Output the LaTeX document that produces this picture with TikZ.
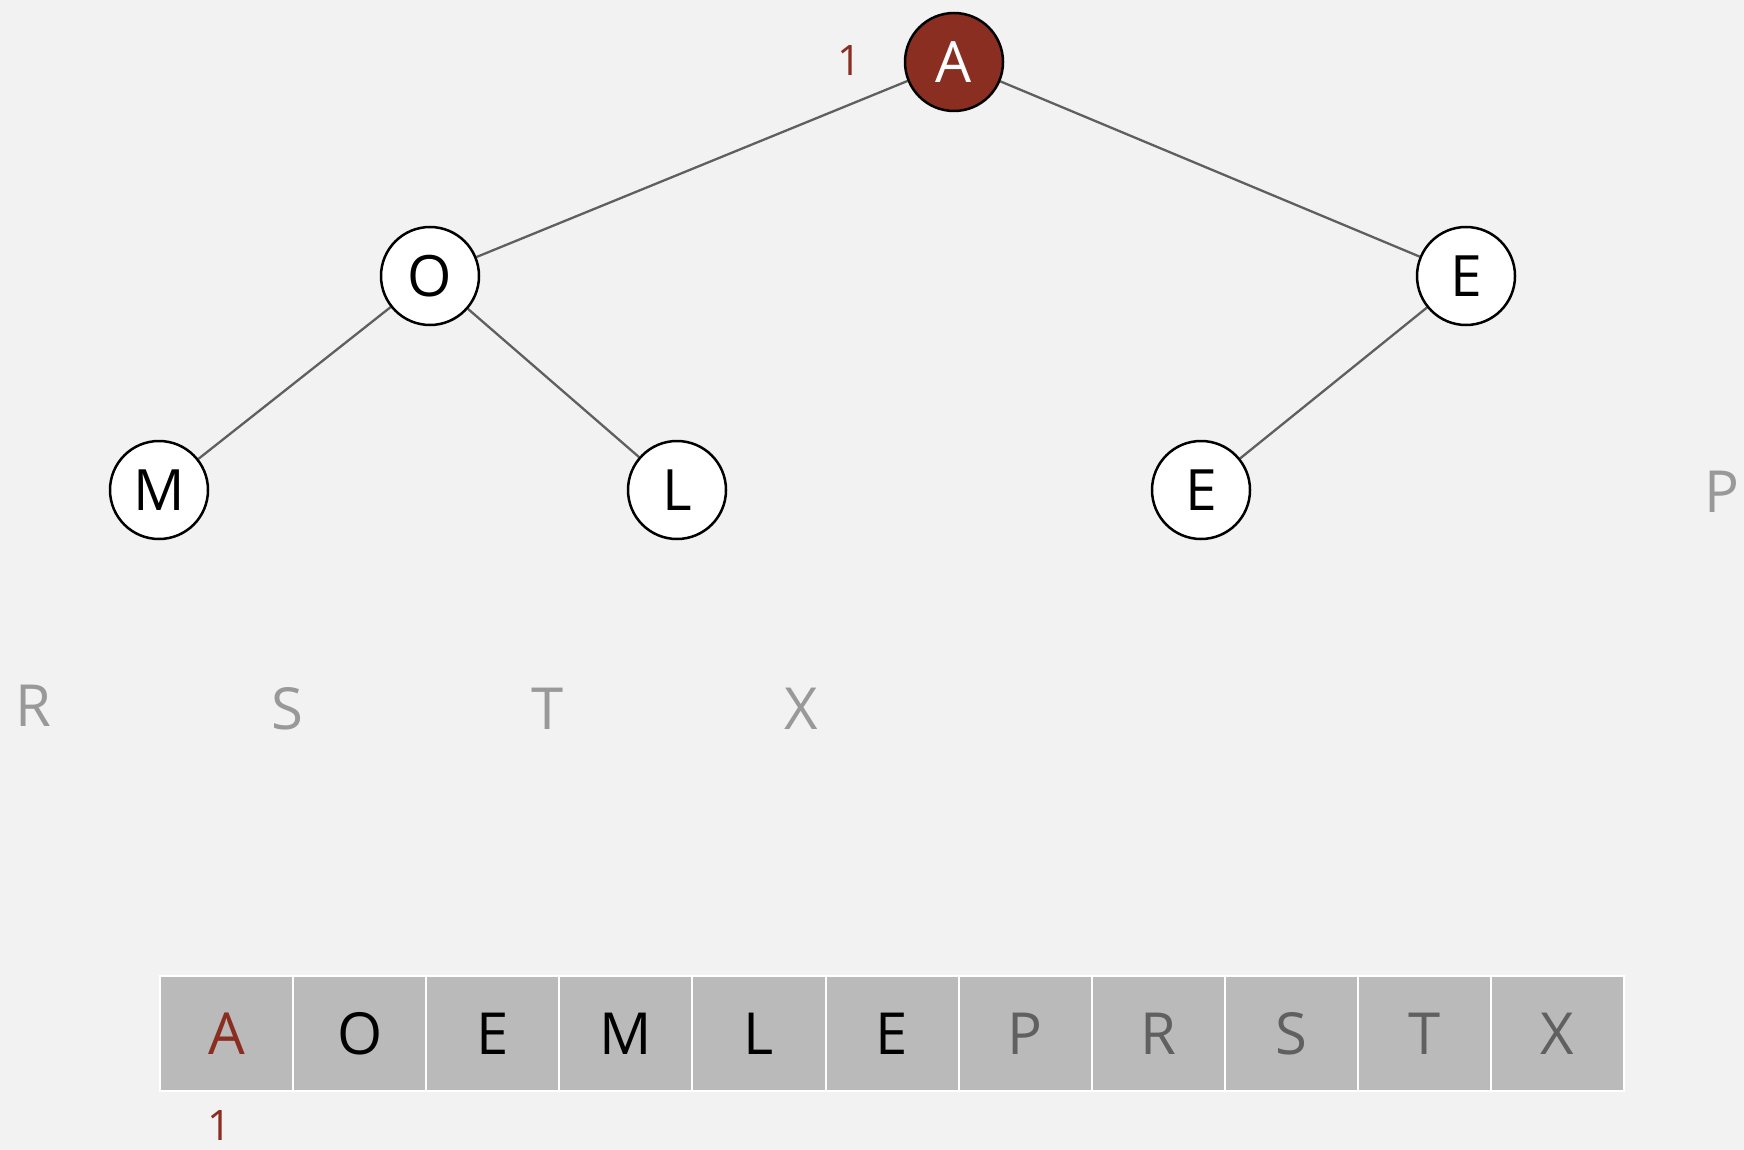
\documentclass[tikz,border=0pt]{standalone}
\usepackage{fontspec}
\setmainfont{Open Sans}
\definecolor{bg}{HTML}{F2F2F2}
\definecolor{heapred}{HTML}{8B2E22}
\definecolor{cellgray}{HTML}{BABABA}
\definecolor{edgegray}{HTML}{5F5F5F}
\definecolor{darkletter}{HTML}{606060}
\definecolor{lightletter}{HTML}{999999}
\pgfdeclarelayer{bglayer}
\pgfdeclarelayer{edgelayer}
\pgfsetlayers{bglayer,edgelayer,main}
\tikzset{
  heapnode/.style={circle, draw=black, line width=2.5pt, fill=white, minimum size=98pt, inner sep=0pt, font=\fontsize{57}{60}\selectfont},
  rootnode/.style={heapnode, fill=heapred, text=white},
  edge/.style={draw=edgegray, line width=2.3pt},
  waiting/.style={text=lightletter, inner sep=0pt, font=\fontsize{58}{60}\selectfont},
  cell/.style={draw=white, line width=2pt, fill=cellgray, minimum width=133.1pt, minimum height=115pt, inner sep=0pt, anchor=north west, font=\fontsize{58}{60}\selectfont},
  idx/.style={text=heapred, inner sep=0pt, font=\fontsize{42}{44}\selectfont},
}
\begin{document}
\begin{tikzpicture}[x=1pt,y=-1pt]
\begin{pgfonlayer}{bglayer}
\useasboundingbox[fill=bg] (0,0) rectangle (1744,1150);
\end{pgfonlayer}
% tree nodes
\node[rootnode] (a) at (954,62) {A};
\node[heapnode] (o) at (430,276) {O};
\node[heapnode] (e1) at (1466,276) {E};
\node[heapnode] (m) at (159,490) {M};
\node[heapnode] (l) at (677,490) {L};
\node[heapnode] (e2) at (1201,490) {E};
\begin{pgfonlayer}{edgelayer}
\draw[edge] (a) -- (o);
\draw[edge] (a) -- (e1);
\draw[edge] (o) -- (m);
\draw[edge] (o) -- (l);
\draw[edge] (e1) -- (e2);
\end{pgfonlayer}
\node[idx] (i1) at (849,61) {1};
% waiting keys
\node[waiting] (wp) at (1722,492) {P};
\node[waiting] (wr) at (33,706) {R};
\node[waiting] (ws) at (287,709) {S};
\node[waiting] (wt) at (548,709) {T};
\node[waiting] (wx) at (801,709) {X};
% array
\node[cell, text=heapred] (c1) at (159,975) {A};
\node[cell] (c2) at (292.1,975) {O};
\node[cell] (c3) at (425.2,975) {E};
\node[cell] (c4) at (558.3,975) {M};
\node[cell] (c5) at (691.4,975) {L};
\node[cell] (c6) at (824.5,975) {E};
\node[cell, text=darkletter] (c7) at (957.6,975) {P};
\node[cell, text=darkletter] (c8) at (1090.7,975) {R};
\node[cell, text=darkletter] (c9) at (1223.8,975) {S};
\node[cell, text=darkletter] (c10) at (1356.9,975) {T};
\node[cell, text=darkletter] (c11) at (1490,975) {X};
\node[idx] (i2) at (220,1125) {1};
\end{tikzpicture}
\end{document}
